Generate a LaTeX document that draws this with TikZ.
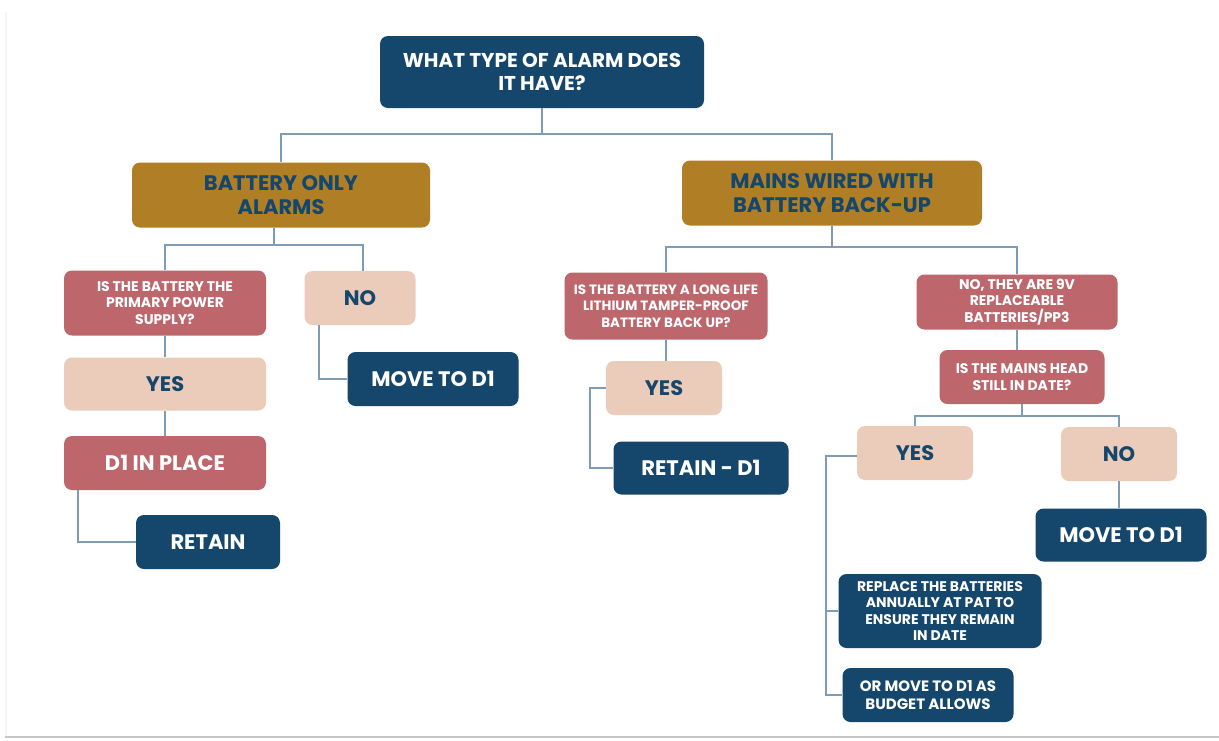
\documentclass[tikz,border=0pt]{standalone}
\usepackage{fontspec}
\setmainfont{Poppins}
\usetikzlibrary{calc}
\definecolor{navyc}{HTML}{15466B}
\definecolor{goldc}{HTML}{B07F25}
\definecolor{pinkc}{HTML}{BD676D}
\definecolor{peachc}{HTML}{EBCBB9}
\definecolor{linec}{HTML}{7D9CB6}
\tikzset{
  box/.style={rounded corners=8pt, inner sep=0pt, align=center},
  big/.style={font=\bfseries\fontsize{21}{24}\selectfont},
  small/.style={font=\bfseries\fontsize{14}{16.5}\selectfont},
  navybox/.style={box, fill=navyc, text=white},
  goldbox/.style={box, fill=goldc, text=navyc},
  pinkbox/.style={box, fill=pinkc, text=white},
  peachbox/.style={box, fill=peachc, text=navyc},
  conn/.style={draw=linec, line width=1.8pt},
  dims/.style 2 args={minimum width=#1pt, minimum height=#2pt}
}
\begin{document}
\begin{tikzpicture}[x=1pt,y=-1pt]
\useasboundingbox (0,0) rectangle (1219,740);
\fill[white] (0,0) rectangle (1219,740);
\draw[gray!45, line width=2pt] (5,737) -- (1219,737);
\draw[gray!8, line width=1.5pt] (6,12) -- (6,736);

% nodes
\node[navybox, font=\bfseries\fontsize{20}{23}\selectfont, dims={324}{72}] (top) at (542,72) {WHAT TYPE OF ALARM DOES\\IT HAVE?};
\node[goldbox, big, dims={298}{65}] (bat) at (281,195) {BATTERY ONLY\\ALARMS};
\node[goldbox, big, dims={300}{65}] (mains) at (832,193) {MAINS WIRED WITH\\BATTERY BACK-UP};

\node[pinkbox, small, dims={202}{65}] (q1) at (165,303) {IS THE BATTERY THE\\PRIMARY POWER\\SUPPLY?};
\node[peachbox, big, dims={111}{54}] (no1) at (360,298) {NO};
\node[peachbox, big, dims={202}{53}] (yes1) at (165,384) {YES};
\node[pinkbox, big, dims={202}{54}] (d1) at (165,463) {D1 IN PLACE};
\node[navybox, big, dims={144}{54}] (ret1) at (208,542) {RETAIN};
\node[navybox, big, dims={171}{54}] (mv1) at (433,379) {MOVE TO D1};

\node[pinkbox, font=\bfseries\fontsize{13.5}{16.5}\selectfont, dims={203}{67}] (q2) at (666,306) {IS THE BATTERY A LONG LIFE\\LITHIUM TAMPER-PROOF\\BATTERY BACK UP?};
\node[peachbox, big, dims={116}{54}] (yes2) at (664,388) {YES};
\node[navybox, big, dims={175}{53}] (ret2) at (701,468) {RETAIN - D1};

\node[pinkbox, small, dims={201}{55}] (q3) at (1017,302) {NO, THEY ARE 9V\\REPLACEABLE\\BATTERIES/PP3};
\node[pinkbox, small, dims={165}{54}] (q4) at (1022,377) {IS THE MAINS HEAD\\STILL IN DATE?};
\node[peachbox, big, dims={116}{54}] (yes3) at (915,453) {YES};
\node[peachbox, big, dims={116}{54}] (no3) at (1119,454) {NO};
\node[navybox, big, dims={171}{53}] (mv3) at (1121,535) {MOVE TO D1};
\node[navybox, small, dims={203}{74}] (rep) at (940,611) {REPLACE THE BATTERIES\\ANNUALLY AT PAT TO\\ENSURE THEY REMAIN\\IN DATE};
\node[navybox, font=\bfseries\fontsize{15}{18}\selectfont, dims={171}{54}] (orm) at (928,695) {OR MOVE TO D1 AS\\BUDGET ALLOWS};

% connectors
\coordinate (j1) at (542,134);
\draw[conn] (top.south) -- (j1);
\draw[conn] (bat.north) |- (j1) -| (mains.north);

\coordinate (j2) at (274,245);
\draw[conn] (bat.south -| j2) -- (j2);
\draw[conn] (q1.north) |- (j2) -| ([xshift=3pt]no1.north);
\draw[conn] (q1.south) -- (yes1.north);
\draw[conn] (yes1.south) -- (d1.north);
\draw[conn] ([xshift=14pt]d1.south west) |- (ret1.west);
\draw[conn] ([xshift=15pt]no1.south west) |- (mv1.west);

\coordinate (j3) at (832,247);
\draw[conn] (mains.south) -- (j3);
\draw[conn] (q2.north) |- (j3) -| (q3.north);
\draw[conn] (q2.south) -- (q2.south |- yes2.north);
\draw[conn] (yes2.west) -- ++(-16,0) |- (ret2.west);
\draw[conn] (q3.south) -- (q3.south |- q4.north);

\coordinate (j4) at (1022,416);
\draw[conn] (q4.south) -- (j4);
\draw[conn] (yes3.north) |- (j4) -| (no3.north);
\draw[conn] (no3.south) -- (no3.south |- mv3.north);
\coordinate (k) at (826,456);
\draw[conn] (yes3.west |- k) -- (k) |- (orm.west);
\draw[conn] (k |- rep.west) -- (rep.west);
\end{tikzpicture}
\end{document}
